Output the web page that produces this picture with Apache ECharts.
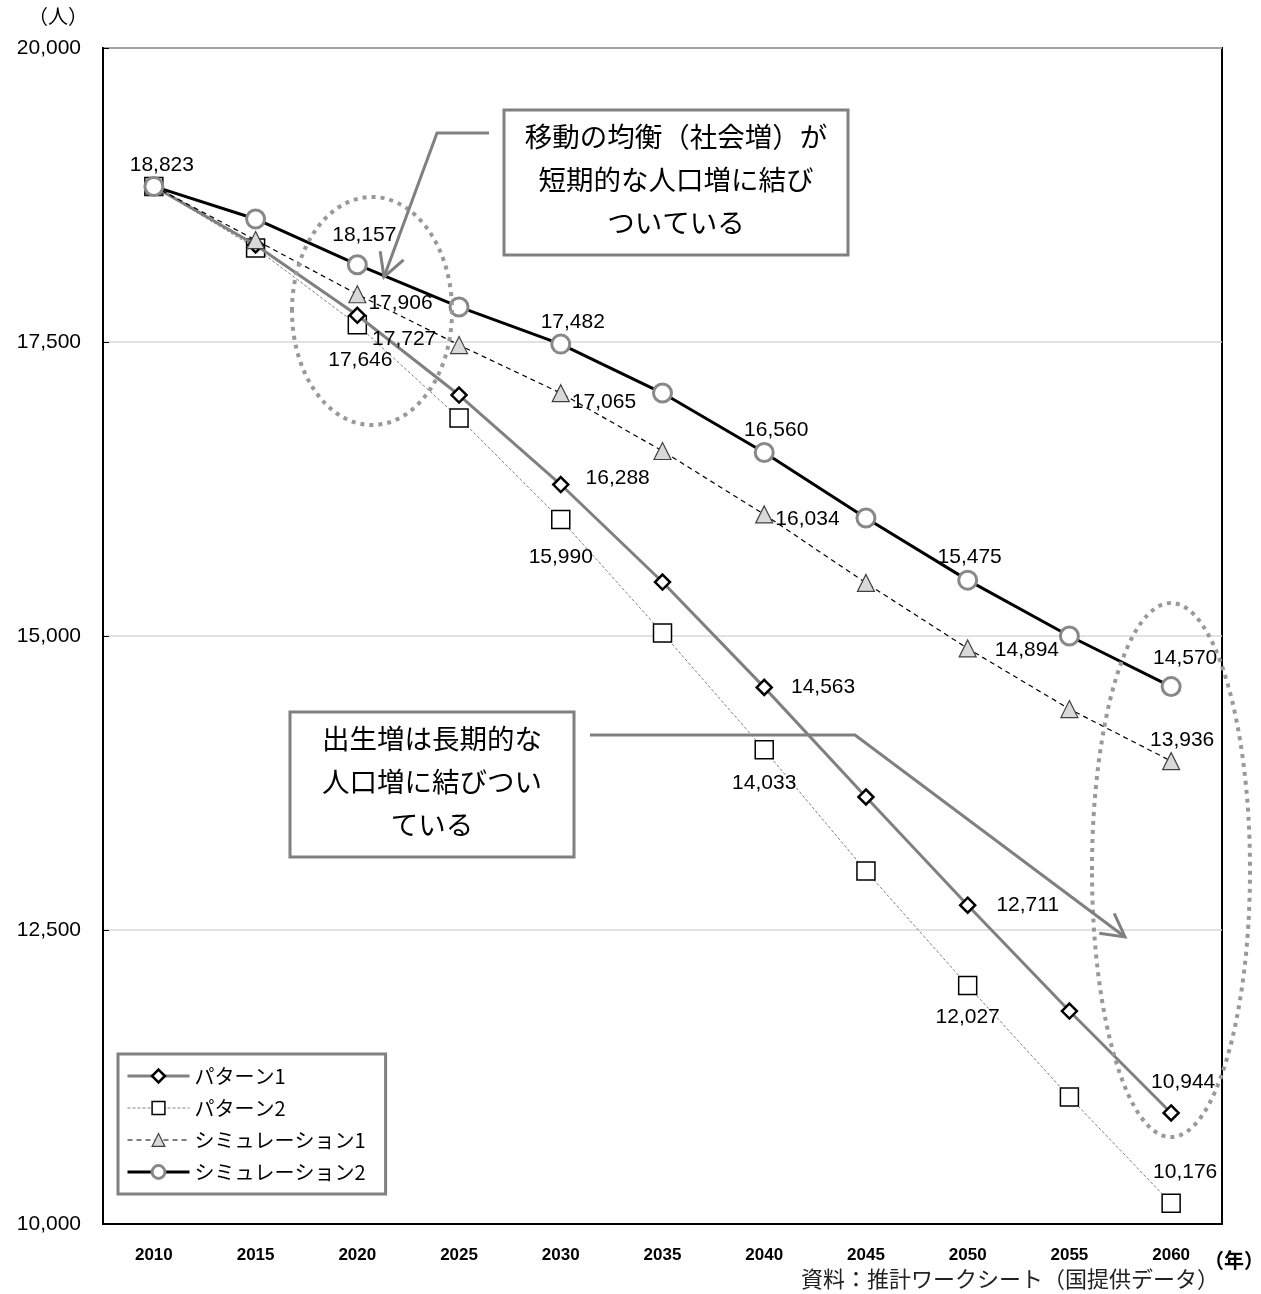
<!DOCTYPE html>
<html>
<head>
  <meta charset="utf-8" />
  <title>人口推計 パターン・シミュレーション比較</title>
  <script src="https://cdn.jsdelivr.net/npm/echarts@6/dist/echarts.min.js"></script>
  <style>
    html, body { margin: 0; padding: 0; background: #fff; }
  </style>
</head>
<body>
  <div id="main" style="width: 1261px; height: 1294px;"></div>
  <script type="text/javascript">

    // Inline data
    let years = ['2010', '2015', '2020', '2025', '2030', '2035', '2040', '2045', '2050', '2055', '2060'];
    let pattern1 = [18823, 18325, 17727, 17049, 16288, 15459, 14563, 13631, 12711, 11811, 10944];
    let pattern2 = [18823, 18299, 17646, 16854, 15990, 15026, 14033, 13002, 12027, 11080, 10176];
    let simulation1 = [18823, 18367, 17906, 17474, 17065, 16573, 16034, 15451, 14894, 14379, 13936];
    let simulation2 = [18823, 18546, 18157, 17798, 17482, 17066, 16560, 16003, 15475, 15000, 14570];
    let seriesNames = ['パターン1', 'パターン2', 'シミュレーション1', 'シミュレーション2'];

    var numFont = 'Liberation Sans, Arial, sans-serif';
    var jpFont = 'Noto Sans CJK JP, sans-serif';

    function fmt(v) {
      return Number(v).toLocaleString('en-US');
    }

    // label settings per point index
    function withLabels(values, labels) {
      return values.map(function (v, i) {
        if (!labels[i]) return v;
        return {
          value: v,
          label: Object.assign({
            show: true,
            color: '#000',
            fontSize: 21,
            fontFamily: numFont,
            formatter: function (p) { return fmt(p.value); }
          }, labels[i])
        };
      });
    }

    var chart = echarts.init(document.getElementById('main'));

    // arrow head helper for annotations
    function arrowHead(x0, y0, x1, y1, len) {
      var a = Math.atan2(y1 - y0, x1 - x0);
      var s = 0.5;
      return [
        [x1 - len * Math.cos(a - s), y1 - len * Math.sin(a - s)],
        [x1, y1],
        [x1 - len * Math.cos(a + s), y1 - len * Math.sin(a + s)]
      ];
    }

    var annoGray = '#808080';

    var option = {
      animation: false,
      backgroundColor: '#fff',
      grid: {
        left: 103,
        right: 39,
        top: 48,
        bottom: 70,
        show: true,
        borderColor: '#000',
        borderWidth: 2
      },
      legend: {
        orient: 'vertical',
        left: 118,
        top: 1054,
        padding: [12, 20, 12, 8],
        itemGap: 12,
        itemWidth: 62,
        itemHeight: 16,
        borderColor: '#808080',
        borderWidth: 3,
        backgroundColor: '#fff',
        lineStyle: { width: 'inherit' },
        itemStyle: { borderWidth: 'inherit' },
        textStyle: { fontSize: 20, fontFamily: jpFont, color: '#000' },
        data: seriesNames
      },
      xAxis: {
        type: 'category',
        data: years,
        boundaryGap: true,
        axisLine: { lineStyle: { color: '#000', width: 2 } },
        axisTick: { inside: true, length: 6, lineStyle: { color: '#000' } },
        axisLabel: { fontSize: 17, fontWeight: 'bold', color: '#000', fontFamily: numFont, margin: 23 }
      },
      yAxis: {
        type: 'value',
        min: 10000,
        max: 20000,
        interval: 2500,
        axisLine: { show: true, lineStyle: { color: '#000', width: 2 } },
        axisTick: { show: true, inside: true, length: 6, lineStyle: { color: '#000' } },
        axisLabel: {
          fontSize: 21, color: '#000', fontFamily: numFont, margin: 22,
          formatter: function (v) { return fmt(v); }
        },
        splitLine: { lineStyle: { color: '#d9d9d9', width: 1.5 } }
      },
      series: [
        {
          name: seriesNames[0],
          type: 'line',
          z: 4,
          symbol: 'diamond',
          symbolSize: 15,
          color: '#808080',
          lineStyle: { color: '#808080', width: 3 },
          itemStyle: { color: '#fff', borderColor: '#000', borderWidth: 2.5 },
          data: withLabels(pattern1, {
            2: { position: 'right', distance: 6, offset: [0, 24] },
            4: { position: 'right', distance: 16, offset: [0, -6] },
            6: { position: 'right', distance: 18 },
            8: { position: 'right', distance: 20 },
            10: { position: 'top', distance: 12, offset: [12, 0] }
          })
        },
        {
          name: seriesNames[1],
          type: 'line',
          z: 3,
          symbol: 'rect',
          symbolSize: 18,
          color: '#808080',
          lineStyle: { color: '#808080', width: 1, type: [3, 2] },
          itemStyle: { color: '#fff', borderColor: '#000', borderWidth: 1.5 },
          data: withLabels(pattern2, {
            2: { position: 'bottom', distance: 15, offset: [3, 0] },
            4: { position: 'bottom', distance: 17 },
            6: { position: 'bottom', distance: 13 },
            8: { position: 'bottom', distance: 11 },
            10: { position: 'top', distance: 11, offset: [14, 0] }
          })
        },
        {
          name: seriesNames[2],
          type: 'line',
          z: 5,
          symbol: 'triangle',
          symbolSize: 17,
          color: '#000',
          lineStyle: { color: '#000', width: 1.2, type: [5, 4] },
          itemStyle: { color: '#d9d9d9', borderColor: '#404040', borderWidth: 1.2 },
          data: withLabels(simulation1, {
            2: { position: 'right', distance: 2, offset: [0, 9] },
            4: { position: 'right', distance: 2, offset: [0, 9] },
            6: { position: 'right', distance: 2, offset: [0, 5] },
            8: { position: 'right', distance: 18, offset: [0, 2] },
            10: { position: 'top', distance: 1, offset: [11, 0] }
          })
        },
        {
          name: seriesNames[3],
          type: 'line',
          z: 6,
          symbol: 'circle',
          symbolSize: 18,
          color: '#000',
          lineStyle: { color: '#000', width: 3 },
          itemStyle: { color: '#fff', borderColor: '#888', borderWidth: 3 },
          data: withLabels(simulation2, {
            0: { position: 'top', distance: 0, offset: [8, 0] },
            2: { position: 'top', distance: 9, offset: [7, 0] },
            4: { position: 'top', distance: 1, offset: [12, 0] },
            6: { position: 'top', distance: 1, offset: [12, 0] },
            8: { position: 'top', distance: 2, offset: [2, 0] },
            10: { position: 'top', distance: 7, offset: [14, 0] }
          })
        }
      ],
      graphic: [
        // unit labels and source
        {
          type: 'text', left: 28, top: 6, z: 10,
          style: { text: '（人）', fontSize: 20, fontFamily: jpFont, fill: '#000' }
        },
        {
          type: 'text', left: 1204, top: 1250, z: 10,
          style: { text: '（年）', fontSize: 20, fontWeight: 'bold', fontFamily: jpFont, fill: '#000' }
        },
        {
          type: 'text', right: 42, top: 1268, z: 10,
          style: { text: '資料：推計ワークシート（国提供データ）', fontSize: 22, fontFamily: jpFont, fill: '#222' }
        },
        // dotted ellipses
        {
          type: 'ellipse', z: 20, silent: true,
          shape: { cx: 372, cy: 311, rx: 80, ry: 114 },
          style: { fill: 'none', stroke: '#999', lineWidth: 4, lineDash: [4, 5] }
        },
        {
          type: 'ellipse', z: 20, silent: true,
          shape: { cx: 1171, cy: 870, rx: 79, ry: 267 },
          style: { fill: 'none', stroke: '#999', lineWidth: 4, lineDash: [4, 5] }
        },
        // annotation boxes
        {
          type: 'rect', z: 21,
          shape: { x: 504, y: 110, width: 344, height: 145 },
          style: { fill: '#fff', stroke: annoGray, lineWidth: 3 }
        },
        {
          type: 'text', z: 22, x: 676, y: 180,
          style: {
            text: '移動の均衡（社会増）が\n短期的な人口増に結び\nついている',
            fontSize: 27.5, lineHeight: 43, fontFamily: jpFont, fill: '#000',
            align: 'center', verticalAlign: 'middle'
          }
        },
        {
          type: 'rect', z: 21,
          shape: { x: 290, y: 712, width: 284, height: 145 },
          style: { fill: '#fff', stroke: annoGray, lineWidth: 3 }
        },
        {
          type: 'text', z: 22, x: 432, y: 782,
          style: {
            text: '出生増は長期的な\n人口増に結びつい\nている',
            fontSize: 27.5, lineHeight: 43, fontFamily: jpFont, fill: '#000',
            align: 'center', verticalAlign: 'middle'
          }
        },
        // arrows
        {
          type: 'polyline', z: 21, silent: true,
          shape: { points: [[489, 133], [437, 133], [384, 277]] },
          style: { fill: 'none', stroke: annoGray, lineWidth: 3 }
        },
        {
          type: 'polyline', z: 21, silent: true,
          shape: { points: arrowHead(437, 133, 384, 277, 26) },
          style: { fill: 'none', stroke: annoGray, lineWidth: 3 }
        },
        {
          type: 'polyline', z: 21, silent: true,
          shape: { points: [[590, 735], [855, 735], [1125, 937]] },
          style: { fill: 'none', stroke: annoGray, lineWidth: 3 }
        },
        {
          type: 'polyline', z: 21, silent: true,
          shape: { points: arrowHead(855, 735, 1125, 937, 26) },
          style: { fill: 'none', stroke: annoGray, lineWidth: 3 }
        }
      ]
    };

    chart.setOption(option);
  </script>
</body>
</html>
